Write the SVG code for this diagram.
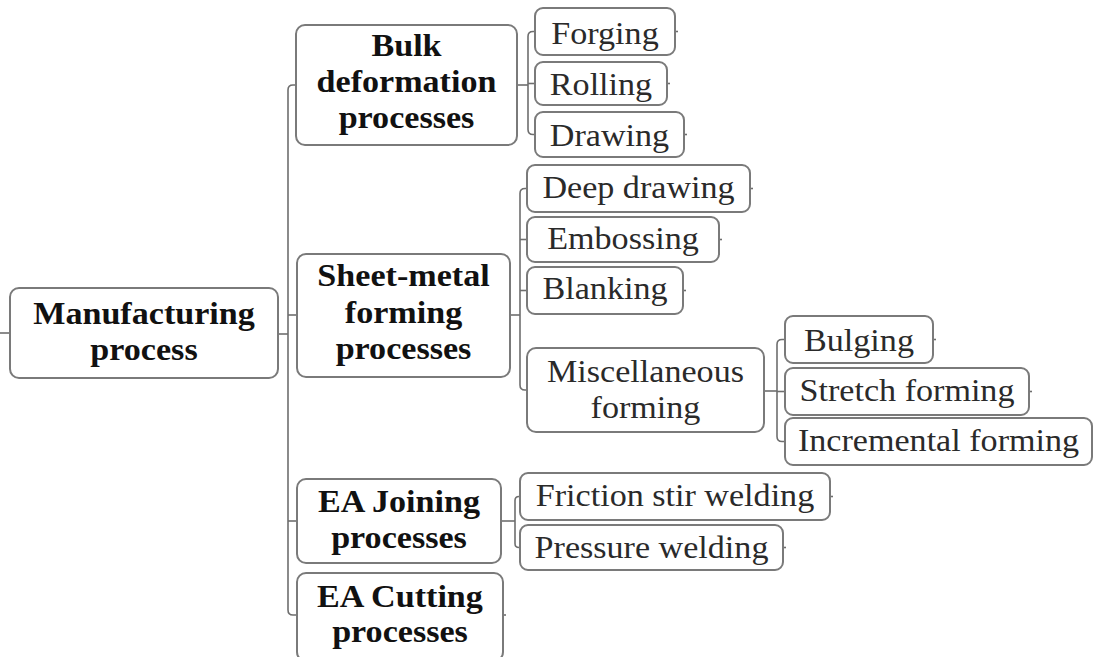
<svg xmlns="http://www.w3.org/2000/svg" width="1094" height="657" viewBox="0 0 1094 657">
  <style>
    .box { fill: #ffffff; stroke: #7a7a7a; stroke-width: 2; }
    .wire { fill: none; stroke: #6e6e6e; stroke-width: 1.6; }
    .t { font-family: "Liberation Serif", "Times New Roman", serif; font-size: 31px; text-anchor: middle; fill: #2a2a2a; }
    .b { font-weight: bold; fill: #111111; }
  </style>
  <rect width="1094" height="657" fill="#ffffff"/>

  <!-- connectors -->
  <g id="connectors" class="wire">
    <!-- root tick and trunk -->
    <path d="M0 333 H10"/>
    <path d="M278 334 H288"/>
    <path d="M296 85 H293 Q288 85 288 90 V610 Q288 615 293 615 H297"/>
    <path d="M288 315 H297"/>
    <path d="M288 521 H297"/>
    <!-- bulk deformation branch -->
    <path d="M517 85 H528"/>
    <path d="M535 31.5 H533 Q528 31.5 528 36.5 V129.5 Q528 134.5 533 134.5 H535"/>
    <path d="M528 83.5 H535"/>
    <!-- sheet-metal branch -->
    <path d="M510 315 H520"/>
    <path d="M527 188.5 H525 Q520 188.5 520 193.5 V385 Q520 390 525 390 H527"/>
    <path d="M520 239.5 H527"/>
    <path d="M520 290.5 H527"/>
    <!-- miscellaneous forming branch -->
    <path d="M764 391 H777"/>
    <path d="M785 339.5 H782 Q777 339.5 777 344.5 V436.5 Q777 441.5 782 441.5 H785"/>
    <path d="M777 391.5 H785"/>
    <!-- joining branch -->
    <path d="M501 521 H515"/>
    <path d="M520 496.5 H519 Q515 496.5 515 500.5 V543.5 Q515 547.5 519 547.5 H520"/>
    <!-- leaf end ticks -->
    <path d="M675 31.5 H678"/>
    <path d="M667 83.5 H670"/>
    <path d="M684 134.5 H687"/>
    <path d="M750 188.5 H753"/>
    <path d="M719 239.5 H722"/>
    <path d="M683 290.5 H686"/>
    <path d="M933 339.5 H936"/>
    <path d="M1029 391.5 H1032"/>
    <path d="M830 496.5 H833"/>
    <path d="M783 547.5 H786"/>
    <path d="M503 615 H506"/>
  </g>

  <g id="manufacturing-process">
    <rect class="box" x="10" y="288" width="268" height="90" rx="9"/>
    <text class="t b" transform="translate(144,324) scale(1.1,1)">Manufacturing</text>
    <text class="t b" transform="translate(144,360) scale(1.1,1)">process</text>
  </g>

  <g id="bulk-deformation">
    <rect class="box" x="296" y="25" width="221" height="120" rx="9"/>
    <text class="t b" transform="translate(406.5,56) scale(1.1,1)">Bulk</text>
    <text class="t b" transform="translate(406.5,92) scale(1.1,1)">deformation</text>
    <text class="t b" transform="translate(406.5,128) scale(1.1,1)">processes</text>
  </g>
  <g id="forging">
    <rect class="box" x="535" y="8" width="140" height="47" rx="8"/>
    <text class="t" transform="translate(605,44) scale(1.1,1)">Forging</text>
  </g>
  <g id="rolling">
    <rect class="box" x="535" y="62" width="132" height="43" rx="8"/>
    <text class="t" transform="translate(601,95) scale(1.1,1)">Rolling</text>
  </g>
  <g id="drawing">
    <rect class="box" x="535" y="112" width="149" height="45" rx="8"/>
    <text class="t" transform="translate(609.5,146) scale(1.1,1)">Drawing</text>
  </g>

  <g id="sheet-metal-forming">
    <rect class="box" x="297" y="254" width="213" height="123" rx="9"/>
    <text class="t b" transform="translate(403.5,286) scale(1.1,1)">Sheet-metal</text>
    <text class="t b" transform="translate(403.5,323) scale(1.1,1)">forming</text>
    <text class="t b" transform="translate(403.5,359) scale(1.1,1)">processes</text>
  </g>
  <g id="deep-drawing">
    <rect class="box" x="527" y="165" width="223" height="47" rx="8"/>
    <text class="t" transform="translate(638.5,198) scale(1.1,1)">Deep drawing</text>
  </g>
  <g id="embossing">
    <rect class="box" x="527" y="217" width="192" height="45" rx="8"/>
    <text class="t" transform="translate(623,249) scale(1.1,1)">Embossing</text>
  </g>
  <g id="blanking">
    <rect class="box" x="527" y="267" width="156" height="47" rx="8"/>
    <text class="t" transform="translate(605,299) scale(1.1,1)">Blanking</text>
  </g>
  <g id="miscellaneous-forming">
    <rect class="box" x="527" y="348" width="237" height="84" rx="9"/>
    <text class="t" transform="translate(645.5,382) scale(1.1,1)">Miscellaneous</text>
    <text class="t" transform="translate(645.5,418) scale(1.1,1)">forming</text>
  </g>
  <g id="bulging">
    <rect class="box" x="785" y="316" width="148" height="47" rx="8"/>
    <text class="t" transform="translate(859,351) scale(1.1,1)">Bulging</text>
  </g>
  <g id="stretch-forming">
    <rect class="box" x="785" y="368" width="244" height="47" rx="8"/>
    <text class="t" transform="translate(907,401) scale(1.1,1)">Stretch forming</text>
  </g>
  <g id="incremental-forming">
    <rect class="box" x="785" y="418" width="307" height="47" rx="8"/>
    <text class="t" transform="translate(938.5,451) scale(1.1,1)">Incremental forming</text>
  </g>

  <g id="ea-joining">
    <rect class="box" x="297" y="479" width="204" height="84" rx="9"/>
    <text class="t b" transform="translate(399,512) scale(1.1,1)">EA Joining</text>
    <text class="t b" transform="translate(399,548) scale(1.1,1)">processes</text>
  </g>
  <g id="friction-stir-welding">
    <rect class="box" x="520" y="473" width="310" height="47" rx="8"/>
    <text class="t" transform="translate(675,506) scale(1.1,1)">Friction stir welding</text>
  </g>
  <g id="pressure-welding">
    <rect class="box" x="520" y="525" width="263" height="45" rx="8"/>
    <text class="t" transform="translate(651.5,558) scale(1.1,1)">Pressure welding</text>
  </g>

  <g id="ea-cutting">
    <rect class="box" x="297" y="573" width="206" height="88" rx="9"/>
    <text class="t b" transform="translate(400,607) scale(1.1,1)">EA Cutting</text>
    <text class="t b" transform="translate(400,642) scale(1.1,1)">processes</text>
  </g>
</svg>
